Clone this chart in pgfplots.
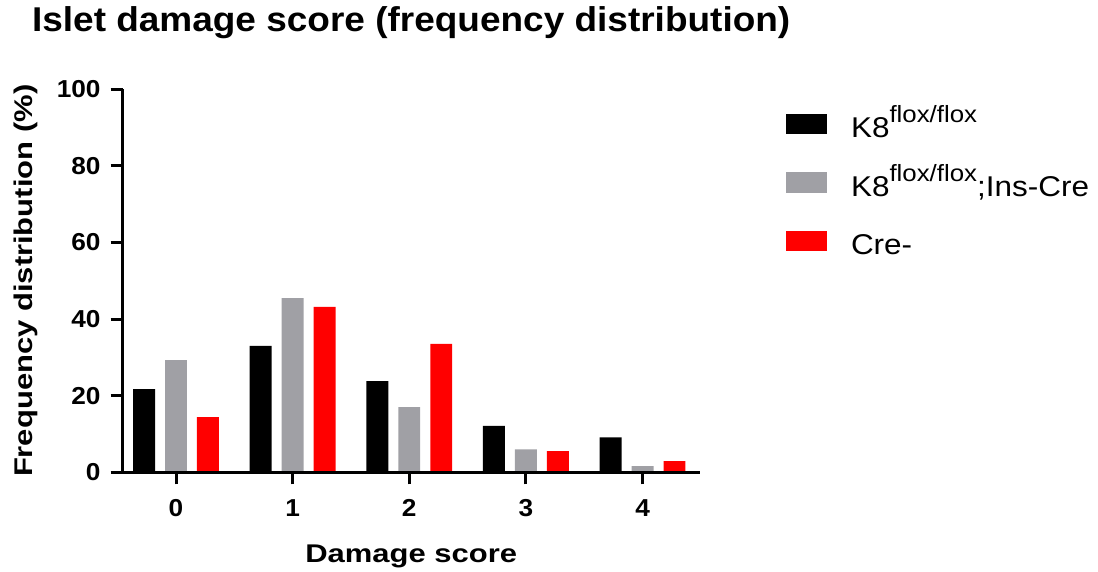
\documentclass[border=0pt]{standalone}
\usepackage{fontspec}
\setmainfont{Liberation Sans}
\newfontfamily\titlefont[FakeStretch=1.075]{Liberation Sans}
\newfontfamily\labfont[FakeStretch=1.21]{Liberation Sans}
\newfontfamily\tickfont[FakeStretch=1.07]{Liberation Sans}
\newfontfamily\legfont[FakeStretch=1.1]{Liberation Sans}
\newcommand{\sups}[1]{\raisebox{15pt}{\fontsize{23.5}{28}\selectfont #1}}
\usepackage{pgfplots}
\pgfplotsset{compat=1.18}
\definecolor{bargray}{RGB}{160,160,165}
\definecolor{barred}{RGB}{255,0,0}
\begin{document}
\begin{tikzpicture}
\useasboundingbox (-122.7pt,-99.7pt) rectangle (975.3pt,472.3pt);
\begin{axis}[
  at={(0pt,0pt)}, anchor=south west,
  scale only axis, width=577pt, height=383pt,
  xmin=-0.457, xmax=4.49, ymin=0, ymax=100,
  axis x line=bottom, axis y line=left,
  axis line style={-, line width=3.5pt},
  axis on top,
  xtick={0,1,2,3,4}, ytick={0,20,40,60,80,100},
  tick align=outside, major tick length=12pt,
  every tick/.style={black, line width=3pt},
  /pgf/number format/assume math mode=true,
  ticklabel style={font=\tickfont\fontsize{24.5}{30}\selectfont\bfseries, inner sep=0pt},
  yticklabel style={xshift=-10pt},
  xticklabel style={yshift=-15pt},
  title={Islet damage score (frequency distribution)},
  title style={font=\titlefont\fontsize{34.4}{40}\selectfont\bfseries, at={(axis description cs:0.5,1.1358)}, anchor=base, inner sep=0pt},
  xlabel={Damage score},
  xlabel style={font=\labfont\fontsize{25.6}{31}\selectfont\bfseries, at={(axis description cs:0.5,-0.2368)}, anchor=base, inner sep=0pt},
  ylabel={Frequency distribution (\%)},
  ylabel style={font=\labfont\fontsize{25.6}{31}\selectfont\bfseries, at={(axis description cs:-0.1555,0.5)}, anchor=base, rotate=0, inner sep=0pt},
  bar width=0.188,
  legend style={draw=none, fill=none, at={(axis description cs:1.1496,0.9825)}, anchor=north west,
    inner sep=0pt, outer sep=0pt, row sep=10.5pt, column sep=0pt,
    nodes={font=\legfont\fontsize{28.6}{33}\selectfont, inner sep=0pt, outer sep=0pt, text height=30pt, text depth=6pt, anchor=west},
    /tikz/every odd column/.append style={column sep=24pt}},
  legend cell align=left,
  legend image code/.code={\path[fill=none,draw=none] (0pt,-6pt) rectangle (41pt,30pt); \fill[#1] (0pt,-8pt) rectangle (41pt,12pt);},
]
\addplot[ybar, bar shift=-0.274, fill=black, draw=none] coordinates {(0,21.7) (1,33.0) (2,23.8) (3,12.1) (4,9.1)};
\addlegendentry{K8\sups{flox/flox}}
\addplot[ybar, bar shift=0, fill=bargray, draw=none] coordinates {(0,29.3) (1,45.5) (2,17.0) (3,6.0) (4,1.6)};
\addlegendentry{K8\sups{flox/flox};Ins-Cre}
\addplot[ybar, bar shift=0.274, fill=barred, draw=none] coordinates {(0,14.4) (1,43.2) (2,33.5) (3,5.5) (4,2.9)};
\addlegendentry{Cre-}
\end{axis}
\end{tikzpicture}
\end{document}
